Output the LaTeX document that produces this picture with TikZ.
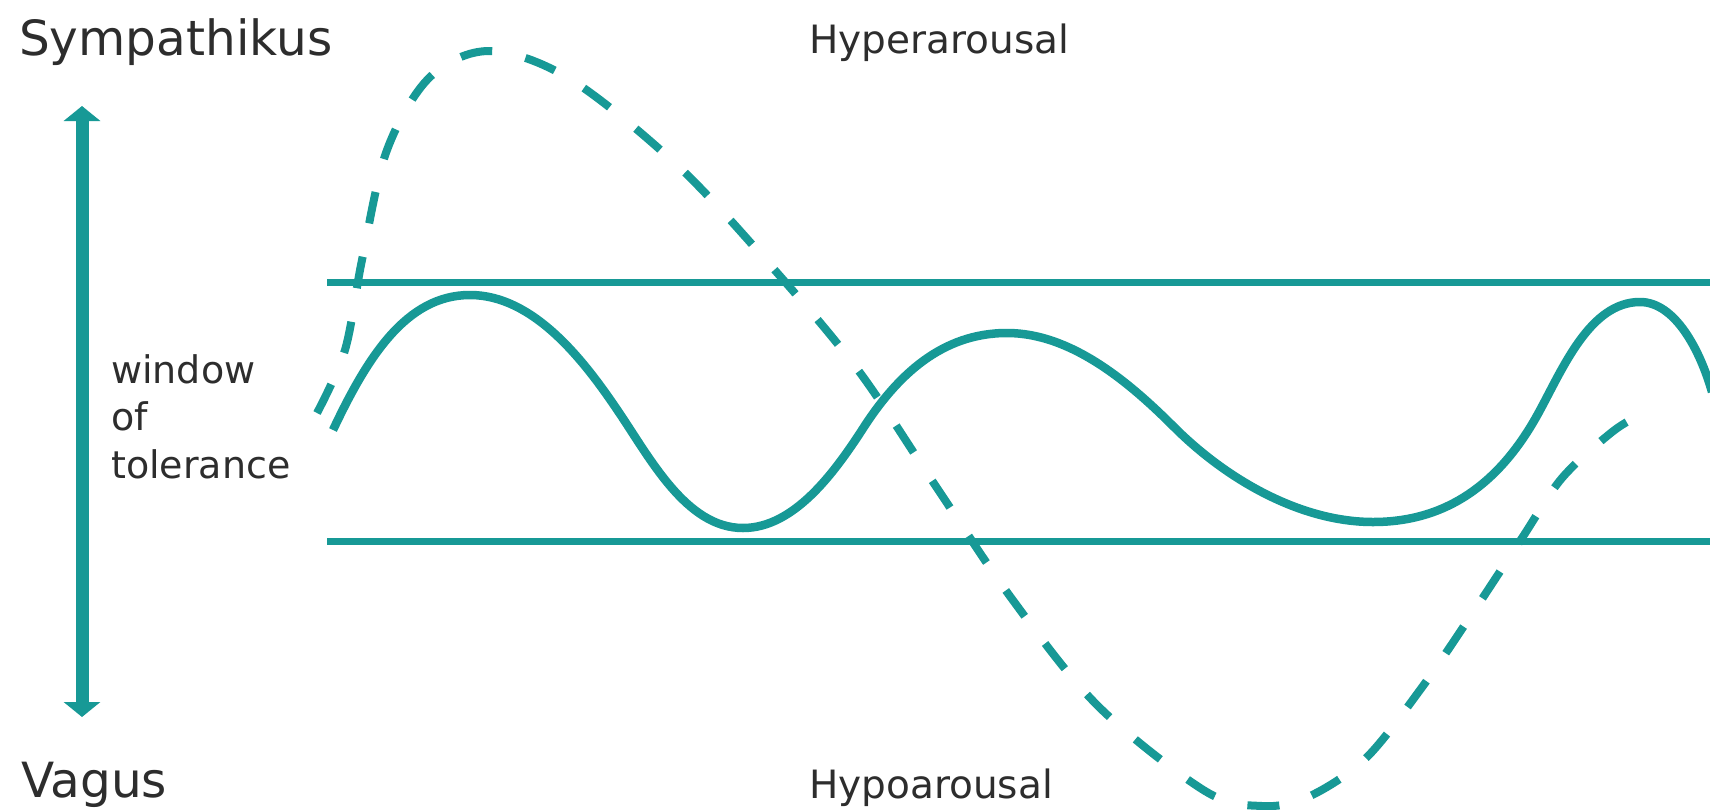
\documentclass[tikz,border=0pt]{standalone}
\usepackage{fontspec}
\setmainfont{DejaVu Sans}
\usetikzlibrary{arrows.meta}
\definecolor{tealc}{RGB}{23,153,150}
\definecolor{txtc}{RGB}{45,45,45}
\begin{document}
\begin{tikzpicture}[x=1pt,y=-1pt,
  band/.style={draw=tealc,line width=7pt},
  wave/.style={draw=tealc,line width=8.5pt},
  dwave/.style={draw=tealc,line width=8pt,dash pattern=on 32pt off 34pt},
  bigl/.style={font=\fontsize{48.5}{56}\selectfont,text=txtc,anchor=base west,inner sep=0pt},
  midl/.style={font=\fontsize{39}{47}\selectfont,text=txtc,anchor=base west,inner sep=0pt},
  winl/.style={font=\fontsize{38}{47}\selectfont,text=txtc,anchor=base west,inner sep=0pt},
  ]
\useasboundingbox (0,0) rectangle (1710,809);
\fill[white] (0,0) rectangle (1710,809);

% labels
\node[bigl] (symp) at (19,55) {Sympathikus};
\node[bigl] (vagus) at (21,797) {Vagus};
\node[midl] (hyper) at (809,53) {Hyperarousal};
\node[midl] (hypo) at (809,798) {Hypoarousal};
\node[winl] (win1) at (111,383) {window};
\node[winl] (win2) at (111,430) {of};
\node[winl] (win3) at (111,478) {tolerance};

% vertical arrow
\coordinate (atop) at (82,106);
\coordinate (abot) at (82,717);
\draw[tealc,line width=13pt,{Triangle[length=15pt,width=36pt]}-{Triangle[length=15pt,width=36pt]}] (atop) -- (abot);

% window of tolerance band
\coordinate (tl) at (327,282);
\coordinate (tr) at (1710,282);
\coordinate (bl) at (327,541);
\coordinate (br) at (1710,541);
\draw[band] (tl) -- (tr);
\draw[band] (bl) -- (br);

% solid wave
\coordinate (s0) at (333,430);
\coordinate (s1) at (470,295);
\coordinate (s2) at (618,411);
\coordinate (s3) at (743,528);
\coordinate (s4) at (862,430);
\coordinate (s5) at (1007,333);
\coordinate (s6) at (1174,427);
\coordinate (s7) at (1373,522);
\coordinate (s8) at (1539,412);
\coordinate (s9) at (1640,302);
\coordinate (s10) at (1712,392);
\draw[wave] (s0) .. controls (367,358) and (406,295) .. (s1)
  .. controls (533,295) and (583,359) .. (s2)
  .. controls (650,458) and (686,528) .. (s3)
  .. controls (794,528) and (834,473) .. (s4)
  .. controls (897,375) and (942,333) .. (s5)
  .. controls (1071,333) and (1129,382) .. (s6)
  .. controls (1226,479) and (1300,522) .. (s7)
  .. controls (1448,522) and (1501,482) .. (s8)
  .. controls (1563,368) and (1590,302) .. (s9)
  .. controls (1675,302) and (1700,350) .. (s10);

% dashed wave
\draw[dwave] plot[smooth,tension=0.55] coordinates {
 (317,413) (345,350) (362,260) (387,150) (430,77) (490,51)
 (570,79) (677,165) (772,267) (858,370) (935,485) (1012,599)
 (1098,706) (1205,791) (1262,806) (1308,797) (1365,759) (1420,690)
 (1470,617) (1522,538) (1562,478) (1612,432) (1640,415)};
\end{tikzpicture}
\end{document}
